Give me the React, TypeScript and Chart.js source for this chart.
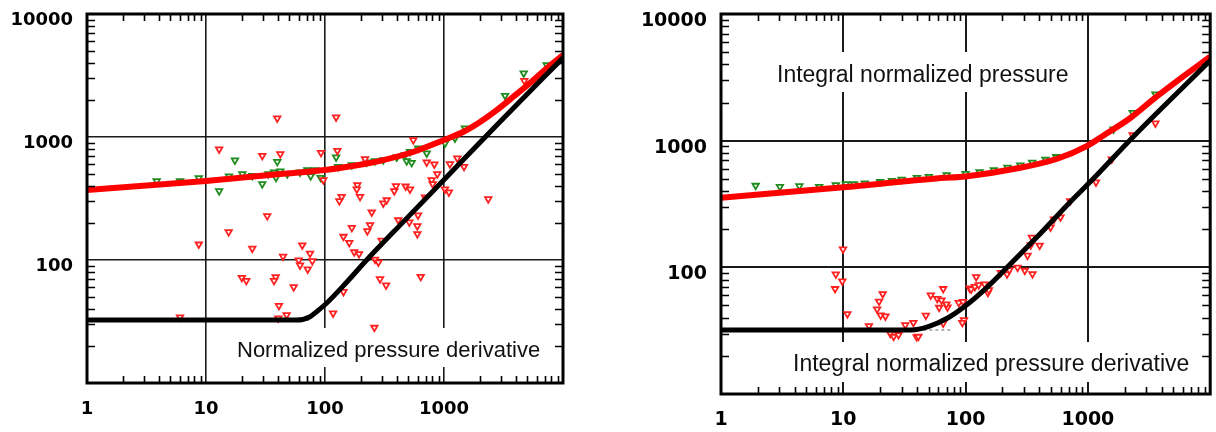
import React, { useEffect, useRef } from 'react';
import { Chart, registerables } from 'chart.js';

Chart.register(...registerables);

type Pt = [number, number];

// ---- axis tick labels ----
const xTickValues = [1, 10, 100, 1000];
const xTickLabels = ['1', '10', '100', '1000'];
const yTickValues = [100, 1000, 10000];
const yTickLabels = ['100', '1000', '10000'];
const xGridDecades = [1, 10, 100, 1000, 10000];
const yGridDecades = [10, 100, 1000, 10000];

// ---- left chart ----
const c1PressureCurve: Pt[] = [
  [1, 371], [10, 439], [42, 500], [100, 539], [208, 600], [290, 640], [549, 755], [1000, 946],
  [1445, 1098], [2009, 1324], [2788, 1660], [3800, 2115], [5280, 2748], [7340, 3640], [10000, 4640],
];
const c1DerivativeCurve: Pt[] = [
  [1, 32.5], [58, 32.5], [75, 34.6], [85, 38], [103, 44.5], [150, 65], [224, 100], [470, 211],
  [1000, 450], [3000, 1350], [10000, 4400],
];
const c1DerivativeDash: Pt[] = [[55, 32.5], [75, 32.5]];
const c1PressurePoints: Pt[] = [
  [3.85, 439], [6.05, 439], [8.7, 464], [12.9, 364], [15.6, 479], [17.5, 647], [20.2, 500], [24.5, 484],
  [29.7, 415], [33.4, 500], [37.3, 516], [38.7, 467], [39.7, 630], [42.1, 526], [48.2, 500], [61.7, 516],
  [71, 539], [75.8, 482], [82.4, 539], [92, 467], [124, 684], [129, 574], [168, 592], [224, 623],
  [263, 638], [309, 650], [401, 684], [470, 714], [486, 638], [518, 760], [535, 618], [608, 809],
  [716, 737], [1020, 889], [1237, 976], [1500, 1177], [3257, 2168], [4677, 3296], [7295, 3846],
];
const c1DerivativePoints: Pt[] = [
  [6.05, 34.2], [8.7, 134], [12.9, 794], [15.5, 169], [24.5, 124], [20, 71.8], [21.8, 67.9], [29.7, 705],
  [32.7, 228], [38.5, 72.8], [37.3, 67.9], [39.7, 1419], [42.1, 728], [44.4, 107], [41, 42.5], [40.5, 33.6],
  [47.6, 35.7], [54.6, 60.3], [60.1, 99.5], [61.7, 90.6], [64.4, 132], [71.6, 84], [74.8, 113], [78.2, 98.2],
  [92.5, 745], [96.8, 447], [117, 36.9], [124, 1446], [127, 774], [132, 302], [138, 327], [143, 55.2],
  [143, 155], [160, 138], [168, 183], [176, 116], [193, 112], [187, 407], [185, 376], [197, 327],
  [217, 662], [227, 172], [239, 193], [247, 244], [260, 28.2], [263, 101], [281, 95.8], [290, 70.1],
  [299, 144], [309, 289], [326, 62.3], [330, 307], [382, 364], [395, 400], [413, 211], [476, 397],
  [518, 376], [511, 203], [552, 946], [597, 189], [597, 163], [605, 231], [637, 73.2], [692, 323],
  [716, 623], [788, 447], [804, 415], [829, 600], [879, 500], [1020, 376], [1100, 355], [1122, 603],
  [1294, 671], [1472, 574], [2356, 313], [4730, 2870],
];
const c1Notes = ['Normalized pressure derivative'];

// ---- right chart ----
const c2PressureCurve: Pt[] = [
  [1, 355], [10, 429], [60, 505], [100, 522], [266, 605], [561, 720], [996, 915], [1343, 1100],
  [2208, 1502], [3640, 2225], [5980, 3200], [10000, 4600],
];
const c2DerivativeCurve: Pt[] = [
  [1, 32], [36, 32], [49.5, 34], [72, 40], [98, 49], [152, 70.5], [221, 101], [387, 175],
  [720, 330], [1047, 474], [2350, 1076], [10000, 4300],
];
const c2DerivativeDash: Pt[] = [[36, 32], [75, 32]];
const c2PressurePoints: Pt[] = [
  [1.92, 442], [3.03, 433], [4.37, 439], [6.35, 433], [8.68, 447], [10.5, 455], [12.2, 455],
  [15, 462], [20, 473], [25, 483], [30, 494], [40, 509], [50, 520], [70, 536], [100, 548], [130, 567],
  [170, 588], [220, 614], [280, 641], [350, 672], [450, 709], [550, 745],
  [1619, 1230], [2322, 1663], [3566, 2323],
];
const c2DerivativePoints: Pt[] = [
  [9.94, 139], [8.68, 88.3], [9.82, 77.6], [8.57, 67.6], [10.8, 42.9], [16.2, 34.5], [19.6, 53.8], [21, 61.7],
  [18.9, 46.7], [20.2, 41.9], [22.1, 41.1], [24.2, 30], [25.8, 28.4], [28.3, 29.3], [32.1, 35.1], [37.4, 36.6],
  [39.8, 28.2], [41.1, 28.4], [47.3, 41.7], [51.9, 60.2], [58.6, 56.6], [63.5, 55], [65.6, 67.6], [60.8, 48.1],
  [71.1, 48.4], [65.6, 36.2], [69.7, 51.2], [87.9, 52.6], [95.3, 53.6], [97, 38.4], [94, 36.6], [108, 68.4],
  [111, 67.1], [119, 70.4], [122, 84], [128, 72.6], [143, 73.6], [152, 63.1], [155, 66.3], [194, 90.8],
  [218, 88.3], [228, 95.3], [266, 99.8], [305, 94.2], [352, 88.7], [321, 124], [341, 150], [348, 172],
  [403, 149], [495, 207], [528, 240], [597, 249], [716, 334], [1164, 469], [1568, 713], [2322, 1109],
  [3566, 1372],
];
const c2Notes = ['Integral normalized pressure', 'Integral normalized pressure derivative'];

const toXY = (pts: Pt[]) => pts.map(([x, y]) => ({ x, y }));

const framePlugin = {
  id: 'frame',
  beforeDatasetsDraw(chart: any, _args: any, opts: any) {
    const ctx = chart.ctx;
    (opts.texts || []).forEach((t: any) => {
      ctx.save();
      ctx.font = `${t.size}px "Liberation Sans", Arial, sans-serif`;
      const w = ctx.measureText(t.text).width;
      ctx.fillStyle = '#ffffff';
      ctx.fillRect(t.x - 6, t.y - t.up, w + 12, t.up + t.down);
      ctx.fillStyle = '#111111';
      ctx.textBaseline = 'alphabetic';
      ctx.textAlign = 'left';
      ctx.fillText(t.text, t.x, t.y);
      ctx.restore();
    });
  },
  afterDatasetsDraw(chart: any) {
    const { ctx, chartArea, scales } = chart;
    const { left, right, top, bottom } = chartArea;
    ctx.save();
    ctx.strokeStyle = '#000';
    ctx.lineWidth = 1.6;
    ctx.beginPath();
    const len = 7;
    for (const d of [1, 10, 100, 1000]) {
      for (let k = 2; k <= 9; k++) {
        const px = Math.round(scales.x.getPixelForValue(k * d)) + 0.5;
        ctx.moveTo(px, bottom); ctx.lineTo(px, bottom - len);
        ctx.moveTo(px, top); ctx.lineTo(px, top + len);
      }
    }
    for (const d of [10, 100, 1000]) {
      for (let k = 2; k <= 9; k++) {
        const py = Math.round(scales.y.getPixelForValue(k * d)) + 0.5;
        ctx.moveTo(left, py); ctx.lineTo(left + len + 1, py);
        ctx.moveTo(right, py); ctx.lineTo(right - len - 1, py);
      }
    }
    ctx.stroke();
    ctx.lineWidth = 3;
    ctx.strokeRect(left, top, right - left, bottom - top);
    ctx.restore();
  },
};

interface Params {
  pressureCurve: Pt[];
  derivativeCurve: Pt[];
  dash: Pt[];
  pressurePoints: Pt[];
  derivativePoints: Pt[];
  texts: any[];
  yAxisWidth: number;
  xAxisHeight: number;
  padRight: number;
  fontSize: number;
  xPad: number;
  yOffset: number;
  gridWidth: number;
}

const zeroPad = (s: any) => {
  s.paddingTop = 0;
  s.paddingBottom = 0;
  s.paddingLeft = 0;
  s.paddingRight = 0;
};

function makeConfig(p: Params): any {
  const tickFont = { family: "'DejaVu Sans', Verdana, sans-serif", size: p.fontSize, weight: 'bold' as const };
  const marker = (color: string) => ({
    showLine: false,
    pointStyle: 'triangle',
    rotation: 180,
    pointRadius: 3.7,
    pointBorderWidth: 1.8,
    pointBorderColor: color,
    pointBackgroundColor: '#ffffff',
    borderColor: color,
    backgroundColor: '#ffffff',
  });
  return {
    type: 'scatter',
    data: {
      datasets: [
        {
          data: toXY(p.derivativeCurve), showLine: true, borderColor: '#000000', borderWidth: 5,
          pointRadius: 0, cubicInterpolationMode: 'monotone', order: 0,
        },
        {
          data: toXY(p.pressureCurve), showLine: true, borderColor: '#ff0000', borderWidth: 6,
          pointRadius: 0, cubicInterpolationMode: 'monotone', order: 1,
        },
        {
          data: toXY(p.dash), showLine: true, borderColor: '#666666', borderWidth: 1.2,
          borderDash: [3, 3], pointRadius: 0, order: 2,
        },
        { data: toXY(p.derivativePoints), ...marker('#ff2020'), order: 3 },
        { data: toXY(p.pressurePoints), ...marker('#1e8c1e'), order: 4 },
      ],
    },
    options: {
      animation: false,
      responsive: false,
      events: [],
      layout: { padding: { top: 14, right: p.padRight, left: 0, bottom: 0 } },
      plugins: {
        legend: { display: false },
        tooltip: { enabled: false },
        frame: { texts: p.texts },
      },
      scales: {
        x: {
          type: 'logarithmic', min: 1, max: 10000, position: 'bottom',
          afterBuildTicks: (s: any) => { s.ticks = xGridDecades.map((v) => ({ value: v })); },
          afterFit: (s: any) => { s.height = p.xAxisHeight; zeroPad(s); },
          grid: { color: '#1a1a1a', lineWidth: p.gridWidth, drawTicks: false },
          border: { display: false },
          ticks: {
            autoSkip: false, maxRotation: 0, padding: p.xPad, font: tickFont, color: '#000',
            callback: (v: number) => { const i = xTickValues.indexOf(v); return i >= 0 ? xTickLabels[i] : ''; },
          },
        },
        y: {
          type: 'logarithmic', min: 10, max: 10000, position: 'left',
          afterBuildTicks: (s: any) => { s.ticks = yGridDecades.map((v) => ({ value: v })); },
          afterFit: (s: any) => { s.width = p.yAxisWidth; zeroPad(s); },
          grid: { color: '#1a1a1a', lineWidth: p.gridWidth, drawTicks: false },
          border: { display: false },
          ticks: {
            autoSkip: false, padding: 14, font: tickFont, color: '#000', labelOffset: p.yOffset,
            callback: (v: number) => { const i = yTickValues.indexOf(v); return i >= 0 ? yTickLabels[i] : ''; },
          },
        },
      },
    },
    plugins: [framePlugin],
  };
}

function LogChart({ params, left, width }: { params: Params; left: number; width: number }) {
  const ref = useRef<HTMLCanvasElement>(null);
  useEffect(() => {
    const chart = new Chart(ref.current as HTMLCanvasElement, makeConfig(params));
    return () => chart.destroy();
  }, []);
  return (
    <canvas
      ref={ref}
      width={width}
      height={432}
      style={{ position: 'absolute', left, top: 0, width, height: 432 }}
    />
  );
}

const leftParams: Params = {
  pressureCurve: c1PressureCurve,
  derivativeCurve: c1DerivativeCurve,
  dash: c1DerivativeDash,
  pressurePoints: c1PressurePoints,
  derivativePoints: c1DerivativePoints,
  texts: [{ text: c1Notes[0], x: 237, y: 357, size: 22, up: 29, down: 10 }],
  yAxisWidth: 87,
  xAxisHeight: 49,
  padRight: 37,
  fontSize: 18,
  xPad: 16,
  yOffset: 6,
  gridWidth: 1.6,
};

const rightParams: Params = {
  pressureCurve: c2PressureCurve,
  derivativeCurve: c2DerivativeCurve,
  dash: c2DerivativeDash,
  pressurePoints: c2PressurePoints,
  derivativePoints: c2DerivativePoints,
  texts: [
    { text: c2Notes[0], x: 157, y: 82, size: 23, up: 30, down: 10 },
    { text: c2Notes[1], x: 173, y: 371, size: 23, up: 29, down: 11 },
  ],
  yAxisWidth: 101,
  xAxisHeight: 38,
  padRight: 1,
  fontSize: 19,
  xPad: 15,
  yOffset: 7,
  gridWidth: 2,
};

export default function App() {
  return (
    <div style={{ position: 'absolute', left: 0, top: 0, width: 1216, height: 432, background: '#fff', overflow: 'hidden' }}>
      <LogChart params={leftParams} left={0} width={600} />
      <LogChart params={rightParams} left={620} width={596} />
    </div>
  );
}
